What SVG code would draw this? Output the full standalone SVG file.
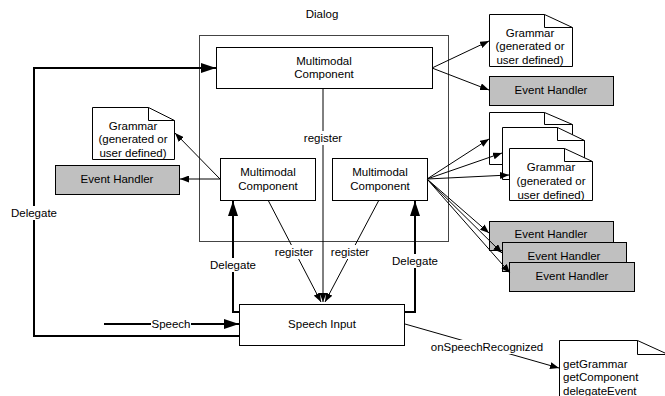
<svg xmlns="http://www.w3.org/2000/svg" width="665" height="396" viewBox="0 0 665 396">
  <style>
    text { font-family: "Liberation Sans", Arial, sans-serif; font-size: 11.5px; fill: #000; text-anchor: middle; }
    .box { fill: #fff; stroke: #000; stroke-width: 1; }
    .eh { fill: #c0c0c0; stroke: #000; stroke-width: 1; }
    .doc { fill: #fff; stroke: #000; stroke-width: 1; }
    .fold { fill: none; stroke: #000; stroke-width: 1; }
    .frame { fill: none; stroke: #444; stroke-width: 1; }
    .thin { fill: none; stroke: #000; stroke-width: 1; }
    .thick { fill: none; stroke: #000; stroke-width: 2; }
    .lbl { fill: #fff; stroke: none; }
    .left { text-anchor: start; }
  </style>
  <defs>
    <marker id="arr" markerUnits="userSpaceOnUse" markerWidth="9" markerHeight="7" refX="9" refY="3.5" orient="auto">
      <path d="M0,0 L9,3.5 L0,7 z" fill="#000"/>
    </marker>
    <marker id="arrB" markerUnits="userSpaceOnUse" markerWidth="15" markerHeight="10" refX="15" refY="5" orient="auto">
      <path d="M0,0 L15,5 L0,10 z" fill="#000"/>
    </marker>
  </defs>

  <!-- Dialog container -->
  <text x="322" y="18">Dialog</text>
  <rect class="frame" x="199.5" y="35.5" width="249" height="206"/>

  <!-- Nodes -->
  <g id="mc-top">
    <rect class="box" x="216.5" y="47.5" width="216" height="41"/>
    <text x="324" y="65">Multimodal</text>
    <text x="324" y="78">Component</text>
  </g>
  <g id="mc-left">
    <rect class="box" x="220.5" y="158.5" width="95" height="42"/>
    <text x="268" y="176">Multimodal</text>
    <text x="268" y="190">Component</text>
  </g>
  <g id="mc-right">
    <rect class="box" x="332.5" y="158.5" width="95" height="42"/>
    <text x="380" y="176">Multimodal</text>
    <text x="380" y="190">Component</text>
  </g>
  <g id="grammar-left">
    <path class="doc" d="M92.5,107.5 H148.5 L174.5,120.5 V159.5 H92.5 Z"/>
    <path class="fold" d="M148.5,107.5 V120.5 H174.5"/>
    <text x="133" y="130">Grammar</text>
    <text x="133" y="143">(generated or</text>
    <text x="133" y="157">user defined)</text>
  </g>
  <g id="eh-left">
    <rect class="eh" x="55.5" y="165.5" width="124" height="29"/>
    <text x="117" y="183">Event Handler</text>
  </g>
  <g id="grammar-top">
    <path class="doc" d="M489.5,14.5 H544.5 L572.5,27.5 V66.5 H489.5 Z"/>
    <path class="fold" d="M544.5,14.5 V27.5 H572.5"/>
    <text x="530" y="37">Grammar</text>
    <text x="530" y="50">(generated or</text>
    <text x="530" y="64">user defined)</text>
  </g>
  <g id="eh-top">
    <rect class="eh" x="489.5" y="76.5" width="124" height="29"/>
    <text x="551" y="94">Event Handler</text>
  </g>
  <g id="grammar-stack-1">
    <path class="doc" d="M489.5,112.5 H544.5 L572.5,124.5 V164.5 H489.5 Z"/>
    <path class="fold" d="M544.5,112.5 V124.5 H572.5"/>
  </g>
  <g id="grammar-stack-2">
    <path class="doc" d="M502.5,127.5 H557.5 L584.5,140.5 V179.5 H502.5 Z"/>
    <path class="fold" d="M557.5,127.5 V140.5 H584.5"/>
  </g>
  <g id="grammar-stack-3">
    <path class="doc" d="M509.5,148.5 H564.5 L592.5,161.5 V200.5 H509.5 Z"/>
    <path class="fold" d="M564.5,148.5 V161.5 H592.5"/>
    <text x="551" y="171">Grammar</text>
    <text x="551" y="185">(generated or</text>
    <text x="551" y="199">user defined)</text>
  </g>
  <g id="eh-stack-1">
    <rect class="eh" x="489.5" y="221.5" width="124" height="29"/>
    <text x="551" y="238">Event Handler</text>
  </g>
  <g id="eh-stack-2">
    <rect class="eh" x="502.5" y="242.5" width="124" height="29"/>
    <text x="564" y="260">Event Handler</text>
  </g>
  <g id="eh-stack-3">
    <rect class="eh" x="509.5" y="262.5" width="125" height="29"/>
    <text x="572" y="280">Event Handler</text>
  </g>
  <g id="speech-input">
    <rect class="box" x="239.5" y="304.5" width="165" height="41"/>
    <text x="322" y="328">Speech Input</text>
  </g>
  <g id="api-note">
    <path class="doc" d="M559.5,340.5 H637.5 L666,353.5 V400 H559.5 Z"/>
    <path class="fold" d="M637.5,340.5 V354.5 H666"/>
    <text class="left" x="563" y="368">getGrammar</text>
    <text class="left" x="563" y="381">getComponent</text>
    <text class="left" x="563" y="395">delegateEvent</text>
  </g>

  <!-- Connectors -->
  <g id="connectors">
    <!-- delegate loop back to the top component -->
    <path class="thick" d="M239,336 H34 V68 H216" marker-end="url(#arrB)"/>
    <!-- speech into the input -->
    <path class="thick" d="M104,324 H239" stroke-width="1.5" marker-end="url(#arrB)"/>
    <!-- delegates up to the lower components -->
    <path class="thick" d="M239,312 H233 V201" marker-end="url(#arrB)"/>
    <path class="thick" d="M404,312 H415 V201" marker-end="url(#arrB)"/>
    <!-- register lines -->
    <path class="thin" d="M323,88 V302" marker-end="url(#arr)"/>
    <path class="thin" d="M268,200 L321,302" marker-end="url(#arr)"/>
    <path class="thin" d="M379,200 L325,302" marker-end="url(#arr)"/>
    <!-- left component -->
    <path class="thin" d="M220,179 H180" marker-end="url(#arr)"/>
    <path class="thin" d="M220,179 L175,133" marker-end="url(#arr)"/>
    <!-- top component -->
    <path class="thin" d="M432,68 L489,41" marker-end="url(#arr)"/>
    <path class="thin" d="M432,68 L489,90" marker-end="url(#arr)"/>
    <!-- right component fan-out -->
    <path class="thin" d="M427,179 L489,139" marker-end="url(#arr)"/>
    <path class="thin" d="M427,179 L502,153" marker-end="url(#arr)"/>
    <path class="thin" d="M427,179 L509,175" marker-end="url(#arr)"/>
    <path class="thin" d="M427,179 L489,233" marker-end="url(#arr)"/>
    <path class="thin" d="M427,179 L502,253" marker-end="url(#arr)"/>
    <path class="thin" d="M427,179 L510,273" marker-end="url(#arr)"/>
    <!-- speech recognized notification -->
    <path class="thin" d="M405,324 L559,368" marker-end="url(#arr)"/>

    <!-- connector labels -->
    <rect class="lbl" x="302" y="131" width="42" height="14"/>
    <text x="323" y="142">register</text>
    <rect class="lbl" x="274" y="245" width="41" height="14"/>
    <text x="294" y="256">register</text>
    <rect class="lbl" x="330" y="245" width="41" height="14"/>
    <text x="350" y="256">register</text>
    <rect class="lbl" x="10" y="206" width="48" height="14"/>
    <text x="34" y="217">Delegate</text>
    <rect class="lbl" x="209" y="258" width="48" height="14"/>
    <text x="233" y="269">Delegate</text>
    <rect class="lbl" x="391" y="254" width="48" height="14"/>
    <text x="415" y="265">Delegate</text>
    <rect class="lbl" x="151" y="317" width="40" height="14"/>
    <text x="171" y="328">Speech</text>
    <rect class="lbl" x="433" y="340" width="108" height="14"/>
    <text x="487" y="351">onSpeechRecognized</text>
  </g>
</svg>
